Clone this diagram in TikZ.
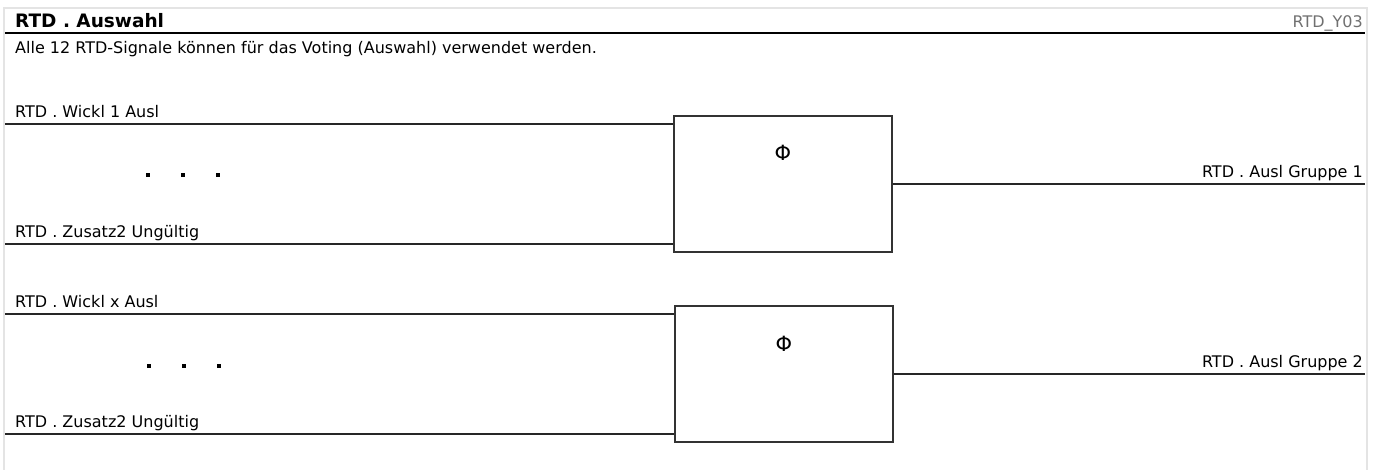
\documentclass[tikz,border=0pt]{standalone}
\usepackage{fontspec}
\setmainfont{DejaVu Sans}
\definecolor{framegray}{HTML}{E4E4E4}
\definecolor{idgray}{HTML}{707070}
\definecolor{boxline}{HTML}{333333}
\begin{document}
\begin{tikzpicture}[x=1pt,y=-1pt,
  lbl/.style={anchor=base west,inner sep=0pt,font=\fontsize{16}{18}\selectfont},
  rlbl/.style={anchor=base east,inner sep=0pt,font=\fontsize{16}{18}\selectfont},
  sig/.style={line width=1.5pt,draw=black!85},
  votebox/.style={draw=boxline,line width=1.5pt,minimum width=218pt,minimum height=136pt,inner sep=0pt},
  phisym/.style={inner sep=0pt,font=\fontsize{21}{24}\selectfont},
  dotsq/.style={fill=black,minimum size=4.5pt,inner sep=0pt},
  frameline/.style={draw=framegray,line width=2pt}]
\useasboundingbox (0,0) rectangle (1381,469);
% outer frame and header
\draw[frameline] (4,472) -- (4,8) -- (1367,8) -- (1367,472);
\coordinate (hl) at (5,33);
\coordinate (hr) at (1365,33);
\draw[line width=2.5pt,black] (hl) -- (hr);
\node[lbl,font=\fontsize{18.5}{20}\selectfont\bfseries] (title) at (15,27) {RTD . Auswahl};
\node[rlbl,text=idgray] (id) at (1363,27) {RTD\_Y03};
\node[lbl] (desc) at (15,53) {Alle 12 RTD-Signale können für das Voting (Auswahl) verwendet werden.};
% group 1
\node[votebox] (b1) at (783,184) {};
\node[phisym] (phi1) at (783,153) {Φ};
\coordinate (a1) at (5,124);
\coordinate (a2) at (5,244);
\coordinate (o1) at (1365,184);
\node[lbl] (la1) at (15,117) {RTD . Wickl 1 Ausl};
\node[lbl] (la2) at (15,237) {RTD . Zusatz2 Ungültig};
\node[rlbl] (lo1) at (1363,177) {RTD . Ausl Gruppe 1};
\draw[sig] (a1) -- (a1 -| b1.west);
\draw[sig] (a2) -- (a2 -| b1.west);
\draw[sig] (b1.east) -- (o1);
\node[dotsq] (d11) at (148,175) {};
\node[dotsq] (d12) at (183,175) {};
\node[dotsq] (d13) at (218,175) {};
% group 2
\node[votebox] (b2) at (784,374) {};
\node[phisym] (phi2) at (784,344) {Φ};
\coordinate (c1) at (5,314);
\coordinate (c2) at (5,434);
\coordinate (o2) at (1365,374);
\node[lbl] (lc1) at (15,307) {RTD . Wickl x Ausl};
\node[lbl] (lc2) at (15,427) {RTD . Zusatz2 Ungültig};
\node[rlbl] (lo2) at (1363,367) {RTD . Ausl Gruppe 2};
\draw[sig] (c1) -- (c1 -| b2.west);
\draw[sig] (c2) -- (c2 -| b2.west);
\draw[sig] (b2.east) -- (o2);
\node[dotsq] (d21) at (149,366) {};
\node[dotsq] (d22) at (184,366) {};
\node[dotsq] (d23) at (219,366) {};
\end{tikzpicture}
\end{document}
